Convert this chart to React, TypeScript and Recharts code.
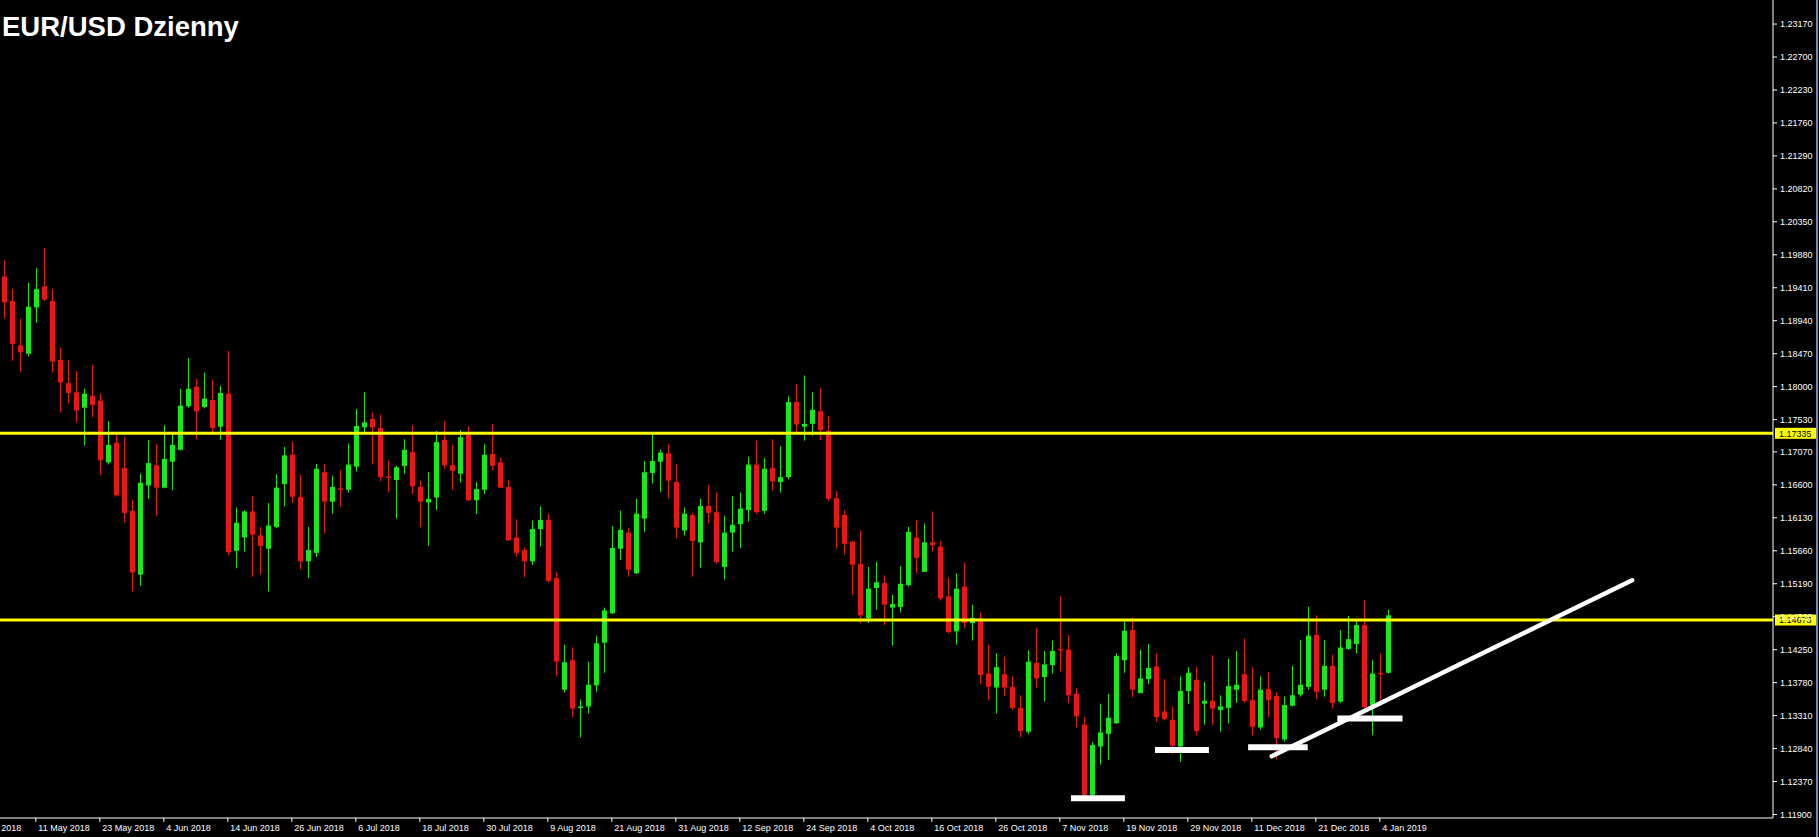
import React from 'react';
import { ComposedChart, Bar, XAxis, YAxis, ReferenceLine } from 'recharts';

// Trading days shown on the chart (first four are before the first visible candle)
const dates = [
  '2018-05-01','2018-05-02','2018-05-03','2018-05-04','2018-05-07','2018-05-08','2018-05-09','2018-05-10','2018-05-11',
  '2018-05-14','2018-05-15','2018-05-16','2018-05-17','2018-05-18','2018-05-21','2018-05-22','2018-05-23','2018-05-24','2018-05-25',
  '2018-05-28','2018-05-29','2018-05-30','2018-05-31','2018-06-01',
  '2018-06-04','2018-06-05','2018-06-06','2018-06-07','2018-06-08','2018-06-11','2018-06-12','2018-06-13','2018-06-14','2018-06-15',
  '2018-06-18','2018-06-19','2018-06-20','2018-06-21','2018-06-22','2018-06-25','2018-06-26','2018-06-27','2018-06-28','2018-06-29',
  '2018-07-02','2018-07-03','2018-07-04','2018-07-05','2018-07-06','2018-07-09','2018-07-10','2018-07-11','2018-07-12','2018-07-13',
  '2018-07-16','2018-07-17','2018-07-18','2018-07-19','2018-07-20','2018-07-23','2018-07-24','2018-07-25','2018-07-26','2018-07-27',
  '2018-07-30','2018-07-31','2018-08-01','2018-08-02','2018-08-03',
  '2018-08-06','2018-08-07','2018-08-08','2018-08-09','2018-08-10','2018-08-13','2018-08-14','2018-08-15','2018-08-16','2018-08-17',
  '2018-08-20','2018-08-21','2018-08-22','2018-08-23','2018-08-24','2018-08-27','2018-08-28','2018-08-29','2018-08-30','2018-08-31',
  '2018-09-03','2018-09-04','2018-09-05','2018-09-06','2018-09-07','2018-09-10','2018-09-11','2018-09-12','2018-09-13','2018-09-14',
  '2018-09-17','2018-09-18','2018-09-19','2018-09-20','2018-09-21','2018-09-24','2018-09-25','2018-09-26','2018-09-27','2018-09-28',
  '2018-10-01','2018-10-02','2018-10-03','2018-10-04','2018-10-05','2018-10-08','2018-10-09','2018-10-10','2018-10-11','2018-10-12',
  '2018-10-15','2018-10-16','2018-10-17','2018-10-18','2018-10-19','2018-10-22','2018-10-23','2018-10-24','2018-10-25','2018-10-26',
  '2018-10-29','2018-10-30','2018-10-31','2018-11-01','2018-11-02',
  '2018-11-05','2018-11-06','2018-11-07','2018-11-08','2018-11-09','2018-11-12','2018-11-13','2018-11-14','2018-11-15','2018-11-16',
  '2018-11-19','2018-11-20','2018-11-21','2018-11-22','2018-11-23','2018-11-26','2018-11-27','2018-11-28','2018-11-29','2018-11-30',
  '2018-12-03','2018-12-04','2018-12-05','2018-12-06','2018-12-07','2018-12-10','2018-12-11','2018-12-12','2018-12-13','2018-12-14',
  '2018-12-17','2018-12-18','2018-12-19','2018-12-20','2018-12-21','2018-12-24','2018-12-26','2018-12-27','2018-12-28','2018-12-31',
  '2019-01-02','2019-01-03','2019-01-04','2019-01-07',
];

const firstCandleDate = '2018-05-07';

const opens = [
  1.1957,1.1922,1.1859,1.1847,1.1913,1.1943,1.1922,1.1838,1.1805,1.1792,
  1.1770,1.1787,1.1780,1.1692,1.1720,1.1684,1.1623,1.1532,1.1659,1.1688,
  1.1656,1.1693,1.1710,1.1772,1.1800,1.1771,1.1781,1.1743,1.1790,1.1566,
  1.1585,1.1622,1.1588,1.1569,1.1600,1.1661,1.1703,1.1643,1.1551,1.1563,
  1.1678,1.1636,1.1655,1.1653,1.1686,1.1742,1.1754,1.1741,1.1672,1.1667,
  1.1687,1.1707,1.1657,1.1635,1.1642,1.1724,1.1688,1.1676,1.1731,1.1638,
  1.1653,1.1704,1.1692,1.1657,1.1585,1.1567,1.1551,1.1597,1.1610,1.1527,
  1.1368,1.1410,1.1342,1.1344,1.1374,1.1435,1.1477,1.1569,1.1592,1.1534,
  1.1612,1.1677,1.1693,1.1705,1.1664,1.1595,1.1617,1.1578,1.1630,1.1621,
  1.1543,1.1592,1.1604,1.1624,1.1689,1.1623,1.1684,1.1664,1.1671,1.1778,
  1.1743,1.1747,1.1765,1.1737,1.1641,1.1617,1.1579,1.1547,1.1470,1.1513,
  1.1520,1.1485,1.1486,1.1517,1.1585,1.1536,1.1578,1.1572,1.1501,1.1451,
  1.1515,1.1463,1.1470,1.1391,1.1371,1.1390,1.1372,1.1342,1.1308,1.1406,
  1.1386,1.1403,1.1426,1.1425,1.1362,1.1318,1.1218,1.1287,1.1305,1.1320,
  1.1410,1.1453,1.1363,1.1383,1.1401,1.1337,1.1325,1.1287,1.1366,1.1382,
  1.1348,1.1352,1.1339,1.1342,1.1368,1.1390,1.1353,1.1314,1.1369,1.1359,
  1.1297,1.1345,1.1361,1.1372,1.1446,1.1368,1.1402,1.1351,1.1426,1.1433,
  1.1460,1.1346,1.1392,1.1392,
];

const highs = [
  1.1980,1.1939,1.1897,1.1948,1.1969,1.1998,1.1939,1.1856,1.1838,1.1822,
  1.1797,1.1831,1.1790,1.1751,1.1734,1.1728,1.1639,1.1676,1.1724,1.1718,
  1.1745,1.1732,1.1797,1.1841,1.1811,1.1820,1.1810,1.1801,1.1851,1.1628,
  1.1624,1.1644,1.1600,1.1634,1.1675,1.1714,1.1722,1.1674,1.1600,1.1690,
  1.1690,1.1673,1.1681,1.1719,1.1768,1.1792,1.1763,1.1760,1.1695,1.1687,
  1.1725,1.1745,1.1666,1.1678,1.1737,1.1751,1.1717,1.1738,1.1744,1.1664,
  1.1718,1.1747,1.1699,1.1667,1.1611,1.1571,1.1609,1.1629,1.1619,1.1536,
  1.1432,1.1428,1.1354,1.1408,1.1445,1.1485,1.1601,1.1623,1.1598,1.1640,
  1.1694,1.1734,1.1710,1.1718,1.1690,1.1628,1.1620,1.1640,1.1660,1.1649,
  1.1616,1.1644,1.1649,1.1700,1.1723,1.1698,1.1725,1.1715,1.1786,1.1804,
  1.1816,1.1792,1.1798,1.1758,1.1651,1.1624,1.1580,1.1595,1.1543,1.1550,
  1.1531,1.1503,1.1544,1.1600,1.1610,1.1605,1.1622,1.1580,1.1528,1.1534,
  1.1549,1.1489,1.1478,1.1432,1.1420,1.1415,1.1387,1.1360,1.1424,1.1456,
  1.1423,1.1438,1.1501,1.1446,1.1370,1.1329,1.1293,1.1348,1.1362,1.1420,
  1.1465,1.1471,1.1425,1.1433,1.1420,1.1383,1.1344,1.1387,1.1400,1.1400,
  1.1379,1.1417,1.1360,1.1412,1.1423,1.1441,1.1400,1.1387,1.1393,1.1364,
  1.1358,1.1402,1.1439,1.1486,1.1474,1.1439,1.1418,1.1453,1.1473,1.1466,
  1.1496,1.1410,1.1419,1.1482,
];

const lows = [
  1.1897,1.1837,1.1821,1.1843,1.1891,1.1922,1.1820,1.1763,1.1776,1.1749,
  1.1716,1.1756,1.1674,1.1689,1.1643,1.1606,1.1508,1.1516,1.1640,1.1616,
  1.1655,1.1652,1.1709,1.1770,1.1725,1.1769,1.1731,1.1724,1.1560,1.1541,
  1.1565,1.1529,1.1532,1.1508,1.1598,1.1629,1.1634,1.1539,1.1527,1.1557,
  1.1591,1.1619,1.1629,1.1649,1.1679,1.1733,1.1689,1.1665,1.1649,1.1612,
  1.1676,1.1647,1.1600,1.1573,1.1624,1.1683,1.1653,1.1663,1.1637,1.1618,
  1.1647,1.1681,1.1655,1.1580,1.1558,1.1528,1.1546,1.1572,1.1521,1.1387,
  1.1364,1.1329,1.1300,1.1334,1.1365,1.1392,1.1476,1.1553,1.1529,1.1533,
  1.1593,1.1662,1.1650,1.1641,1.1584,1.1588,1.1529,1.1542,1.1605,1.1547,
  1.1525,1.1565,1.1570,1.1608,1.1619,1.1619,1.1652,1.1649,1.1668,1.1733,
  1.1723,1.1730,1.1724,1.1637,1.1569,1.1561,1.1503,1.1463,1.1463,1.1482,
  1.1460,1.1431,1.1478,1.1515,1.1534,1.1536,1.1565,1.1495,1.1448,1.1432,
  1.1455,1.1438,1.1376,1.1353,1.1334,1.1359,1.1339,1.1300,1.1305,1.1371,
  1.1351,1.1391,1.1394,1.1349,1.1314,1.1216,1.1216,1.1261,1.1268,1.1319,
  1.1392,1.1357,1.1363,1.1376,1.1322,1.1325,1.1276,1.1265,1.1348,1.1303,
  1.1318,1.1318,1.1308,1.1320,1.1349,1.1349,1.1303,1.1311,1.1329,1.1269,
  1.1294,1.1344,1.1358,1.1368,1.1354,1.1358,1.1341,1.1349,1.1425,1.1420,
  1.1341,1.1303,1.1352,1.1391,
];

const closes = [
  1.1920,1.1861,1.1849,1.1914,1.1939,1.1924,1.1836,1.1806,1.1791,1.1766,
  1.1790,1.1774,1.1695,1.1717,1.1645,1.1620,1.1535,1.1663,1.1691,1.1656,
  1.1697,1.1717,1.1773,1.1797,1.1765,1.1783,1.1741,1.1791,1.1564,1.1606,
  1.1622,1.1589,1.1573,1.1602,1.1656,1.1702,1.1643,1.1551,1.1567,1.1683,
  1.1636,1.1657,1.1653,1.1689,1.1744,1.1749,1.1742,1.1671,1.1670,1.1685,
  1.1710,1.1658,1.1636,1.1640,1.1721,1.1688,1.1680,1.1728,1.1638,1.1654,
  1.1703,1.1687,1.1656,1.1581,1.1563,1.1551,1.1597,1.1610,1.1523,1.1408,
  1.1407,1.1341,1.1344,1.1375,1.1434,1.1481,1.1570,1.1596,1.1539,1.1619,
  1.1678,1.1694,1.1706,1.1666,1.1599,1.1619,1.1580,1.1630,1.1620,1.1550,
  1.1592,1.1603,1.1626,1.1689,1.1621,1.1683,1.1665,1.1671,1.1778,1.1746,
  1.1747,1.1767,1.1738,1.1640,1.1599,1.1576,1.1546,1.1474,1.1512,1.1521,
  1.1489,1.1490,1.1519,1.1593,1.1556,1.1578,1.1574,1.1498,1.1450,1.1512,
  1.1463,1.1470,1.1389,1.1372,1.1400,1.1371,1.1342,1.1309,1.1408,1.1384,
  1.1404,1.1423,1.1424,1.1360,1.1330,1.1218,1.1289,1.1307,1.1328,1.1416,
  1.1452,1.1368,1.1384,1.1399,1.1329,1.1326,1.1288,1.1366,1.1392,1.1309,
  1.1352,1.1341,1.1344,1.1373,1.1375,1.1352,1.1315,1.1368,1.1353,1.1299,
  1.1346,1.1360,1.1375,1.1445,1.1365,1.1402,1.1349,1.1428,1.1440,1.1460,
  1.1343,1.1391,1.1390,1.1474,
];

// Axis labels
const xTickDates = [
  '2018-05-01','2018-05-11','2018-05-23','2018-06-04','2018-06-14','2018-06-26','2018-07-06','2018-07-18',
  '2018-07-30','2018-08-09','2018-08-21','2018-08-31','2018-09-12','2018-09-24','2018-10-04','2018-10-16',
  '2018-10-26','2018-11-07','2018-11-19','2018-11-29','2018-12-11','2018-12-21','2019-01-04',
];
const yTicks = [
  1.11900,1.12370,1.12840,1.13310,1.13780,1.14250,1.14720,1.15190,1.15660,1.16130,1.16600,1.17070,
  1.17530,1.18000,1.18470,1.18940,1.19410,1.19880,1.20350,1.20820,1.21290,1.21760,1.22230,1.22700,1.23170,
];
const monthNames = ['Jan','Feb','Mar','Apr','May','Jun','Jul','Aug','Sep','Oct','Nov','Dec'];

// Horizontal levels
const levels = [1.17335, 1.14673];
// Drawn objects (x in trading-day slots, y in price)
const trendLine = [{ x: 162.55, y: 1.1273 }, { x: 207.6, y: 1.1524 }];
const supportMarks = [
  { x1: 137.46, x2: 144.2, y: 1.1213 },
  { x1: 147.96, x2: 154.7, y: 1.1282 },
  { x1: 159.6, x2: 167.05, y: 1.1286 },
  { x1: 170.75, x2: 178.9, y: 1.1327 },
];

const X_DOMAIN: [number, number] = [3.5875, 225.21];
const Y_DOMAIN: [number, number] = [1.1185, 1.23513];

const FONT = '"Liberation Sans", Arial, sans-serif';
const UP = '#19eb19';
const DOWN = '#eb1717';

const offset = dates.indexOf(firstCandleDate);
const chartData = dates.map((d, j) => {
  const i = j - offset;
  const has = i >= 0 && i < opens.length;
  return {
    j,
    date: d,
    open: has ? opens[i] : null,
    high: has ? highs[i] : null,
    low: has ? lows[i] : null,
    close: has ? closes[i] : null,
    range: has ? [lows[i], highs[i]] : null,
  };
});

const fmtDate = (s: string) => {
  const [y, m, d] = s.split('-');
  return `${parseInt(d, 10)} ${monthNames[parseInt(m, 10) - 1]} ${y}`;
};

const Candle = (props: any) => {
  const { x, y, width, height, payload } = props;
  if (!payload || payload.open == null || x == null) return <g />;
  const { open, close, high, low } = payload;
  const top = Math.min(y, y + height);
  const h = Math.abs(height);
  const span = high - low;
  const k = span > 0 ? h / span : 0;
  const cx = Math.round(x + width / 2);
  const yO = top + (high - open) * k;
  const yC = top + (high - close) * k;
  const up = close >= open;
  const color = up ? UP : DOWN;
  const bTop = Math.min(yO, yC);
  const bh = Math.max(1.2, Math.abs(yC - yO));
  return (
    <g>
      <line x1={cx + 0.5} x2={cx + 0.5} y1={top} y2={top + h} stroke={color} strokeWidth={1} />
      <rect x={cx - 2} y={bTop} width={5} height={bh} fill={color} />
    </g>
  );
};

const XTick = (props: any) => {
  const { x, y, payload } = props;
  const label = fmtDate(dates[payload.value]);
  return (
    <g>
      <line x1={x + 0.5} x2={x + 0.5} y1={y} y2={y + 4} stroke="#ffffff" />
      <text x={x + 3} y={y + 13} fontSize={9} fill="#ffffff" fontFamily={FONT}>{label}</text>
    </g>
  );
};

const YTick = (props: any) => {
  const { x, y, payload } = props;
  return (
    <g>
      <line x1={x} x2={x + 4} y1={y} y2={y} stroke="#ffffff" />
      <text x={x + 7} y={y + 3.2} fontSize={9} fill="#ffffff" fontFamily={FONT}>{Number(payload.value).toFixed(5)}</text>
    </g>
  );
};

const PriceTag = (props: any) => {
  const { viewBox, text } = props;
  if (!viewBox) return null;
  const x = viewBox.x + viewBox.width;
  const y = viewBox.y;
  return (
    <g>
      <rect x={x + 2} y={y - 5.5} width={41} height={11} fill="#ffff00" />
      <text x={x + 6} y={y + 3.3} fontSize={9} fill="#000000" fontFamily={FONT}>{text}</text>
    </g>
  );
};

const xTicks = xTickDates.map((d) => dates.indexOf(d));

export default function App() {
  return (
    <div style={{ position: 'fixed', left: 0, top: 0, width: 1819, height: 837, background: '#000', overflow: 'hidden' }}>
      <ComposedChart width={1819} height={837} data={chartData} margin={{ top: 0, right: 0, bottom: 0, left: 0 }}>
        <XAxis
          dataKey="j"
          type="number"
          domain={X_DOMAIN}
          allowDataOverflow
          ticks={xTicks}
          interval={0}
          tick={<XTick />}
          tickLine={false}
          tickSize={0}
          tickMargin={0}
          height={19}
          axisLine={{ stroke: '#ffffff', strokeWidth: 1 }}
        />
        <YAxis
          orientation="right"
          type="number"
          domain={Y_DOMAIN}
          allowDataOverflow
          ticks={yTicks}
          interval={0}
          tick={<YTick />}
          tickLine={false}
          tickSize={0}
          tickMargin={0}
          width={46}
          axisLine={{ stroke: '#ffffff', strokeWidth: 1 }}
        />
        <Bar dataKey="range" shape={Candle} barSize={5} isAnimationActive={false} />
        {levels.map((lv) => (
          <ReferenceLine
            key={lv}
            y={lv}
            stroke="#ffff00"
            strokeWidth={3}
            label={<PriceTag text={lv.toFixed(5)} />}
          />
        ))}
        {supportMarks.map((m, k) => (
          <ReferenceLine
            key={k}
            segment={[{ x: m.x1, y: m.y }, { x: m.x2, y: m.y }]}
            stroke="#ffffff"
            strokeWidth={6}
          />
        ))}
        <ReferenceLine segment={trendLine} stroke="#ffffff" strokeWidth={4.5} strokeLinecap="round" />
      </ComposedChart>
      <div style={{ position: 'absolute', left: 2, top: 13, fontFamily: FONT, fontWeight: 'bold', fontSize: 27.5, lineHeight: '27px', color: '#ffffff', whiteSpace: 'nowrap' }}>
        EUR/USD Dzienny
      </div>
      <div style={{ position: 'absolute', left: 1816, top: 0, width: 2, height: 837, background: '#6d8fb5' }} />
    </div>
  );
}
